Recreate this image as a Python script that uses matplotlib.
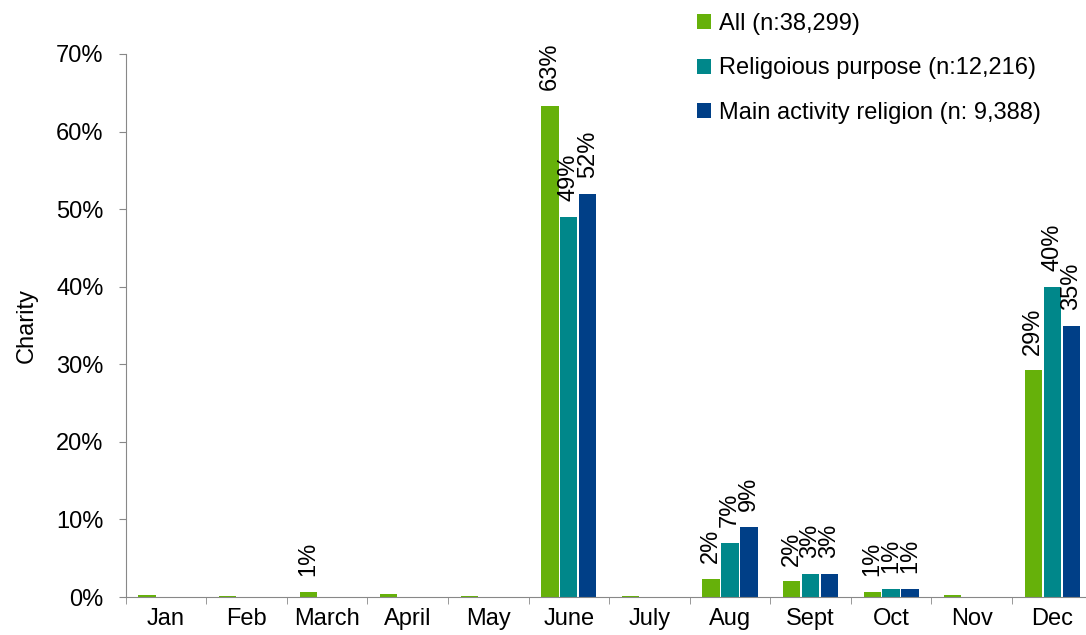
"""Charity share by month, grouped bars."""

import matplotlib
matplotlib.use("Agg")
import matplotlib.pyplot as plt
import numpy as np

plt.rcParams["font.family"] = ["Liberation Sans", "DejaVu Sans"]

MONTHS = ["Jan", "Feb", "March", "April", "May", "June",
          "July", "Aug", "Sept", "Oct", "Nov", "Dec"]
SERIES = ["All (n:38,299)", "Religoious purpose (n:12,216)",
          "Main activity religion (n: 9,388)"]
ALL_VALS = [0.3, 0.15, 0.7, 0.4, 0.15, 63.3, 0.1, 2.3, 2.0, 0.7, 0.2, 29.2]
REL_VALS = [0, 0, 0, 0, 0, 49.0, 0, 7.0, 3.0, 1.0, 0, 40.0]
MAIN_VALS = [0, 0, 0, 0, 0, 52.0, 0, 9.0, 3.0, 1.0, 0, 35.0]
# value labels shown on the chart (None = no label)
ALL_LABELS = [None, None, "1%", None, None, "63%", None, "2%", "2%", "1%", None, "29%"]
REL_LABELS = [None, None, None, None, None, "49%", None, "7%", "3%", "1%", None, "40%"]
MAIN_LABELS = [None, None, None, None, None, "52%", None, "9%", "3%", "1%", None, "35%"]
COLORS = ["#66B10A", "#00878A", "#003F87"]
FS = 17


def main() -> None:
    fig = plt.figure(figsize=(10.86, 6.35), dpi=100)
    ax = fig.add_axes([125.7 / 1086, 1 - 597 / 635, (12 * 80.57) / 1086, (597 - 54) / 635])

    x = np.arange(len(MONTHS))
    width = 0.215
    step = 0.235
    values = [ALL_VALS, REL_VALS, MAIN_VALS]
    labels = [ALL_LABELS, REL_LABELS, MAIN_LABELS]
    for i, (vals, labs) in enumerate(zip(values, labels)):
        pos = x + (i - 1) * step
        ax.bar(pos, vals, width=width, color=COLORS[i], label=SERIES[i])
        for p, v, lab in zip(pos, vals, labs):
            if lab:
                ax.annotate(lab, (p, v), xytext=(0, 11.5), textcoords="offset points",
                            rotation=90, ha="center", va="bottom",
                            fontsize=FS, annotation_clip=False)

    ax.set_xlim(-0.5, len(MONTHS) - 0.5)
    ax.set_ylim(0, 70)
    ax.set_yticks(np.arange(0, 71, 10))
    ax.set_yticklabels([f"{t}%" for t in range(0, 71, 10)], fontsize=FS)
    ax.set_xticks(x)
    ax.set_xticklabels(MONTHS, fontsize=FS)
    ax.set_xticks(np.arange(-0.5, len(MONTHS), 1), minor=True)
    ax.tick_params(axis="x", which="major", length=0, pad=8)
    ax.tick_params(axis="x", which="minor", length=5, color="#888888")
    ax.tick_params(axis="y", length=5, color="#888888", pad=11)
    for side in ("top", "right"):
        ax.spines[side].set_visible(False)
    for side in ("left", "bottom"):
        ax.spines[side].set_color("#888888")
    ax.set_ylabel("Charity", fontsize=FS, labelpad=13)

    fig.legend(loc="upper left", bbox_to_anchor=(684 / 1086, 1.0), frameon=False,
               fontsize=FS, handlelength=0.6, handleheight=0.6, handletextpad=0.35,
               labelspacing=0.95, borderaxespad=0.15)

    fig.savefig("out.png", dpi=100)
    plt.close(fig)


if __name__ == "__main__":
    main()
